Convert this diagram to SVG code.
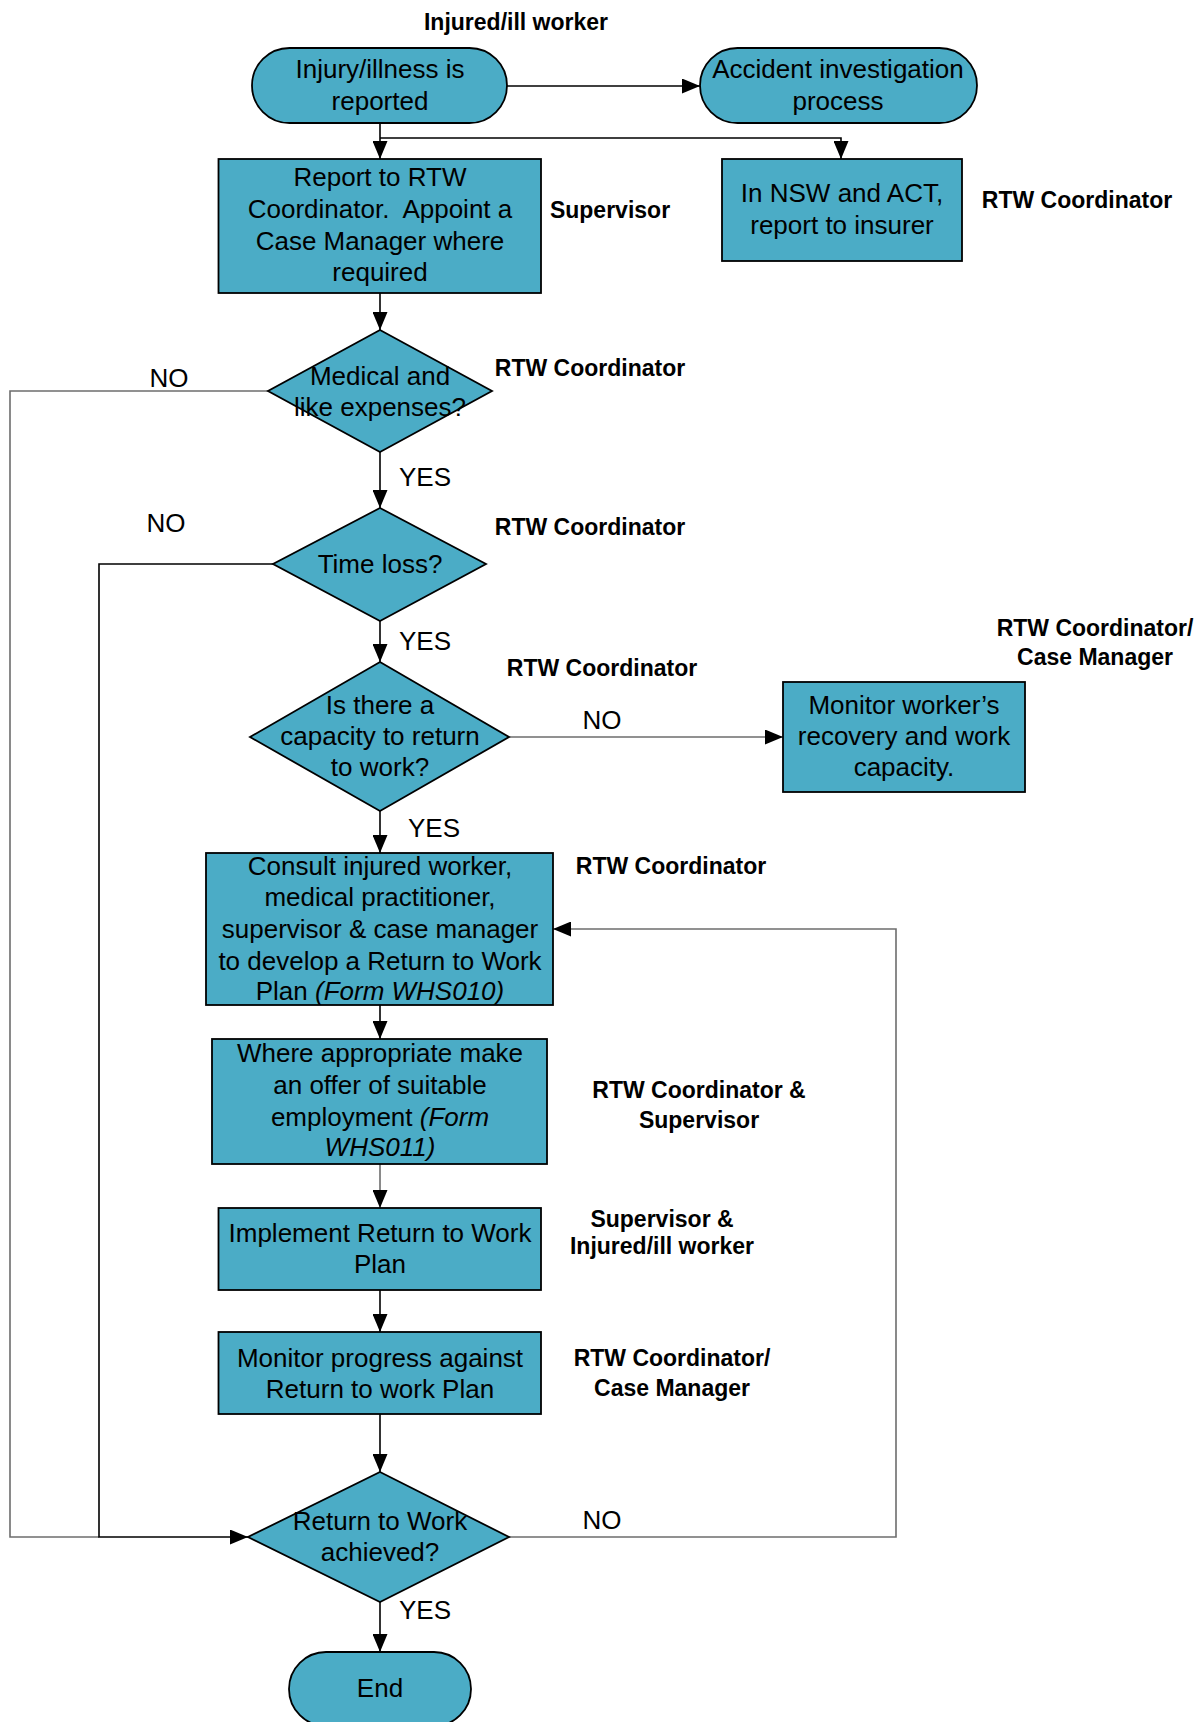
<svg xmlns="http://www.w3.org/2000/svg" width="1200" height="1722" viewBox="0 0 1200 1722">
<defs>
<marker id="ah" viewBox="0 0 18 15" refX="18" refY="7.5" markerWidth="18" markerHeight="15" markerUnits="userSpaceOnUse" orient="auto">
<path d="M0,0 L18,7.5 L0,15 z" fill="#000"/>
</marker>
</defs>
<style>
.shape{fill:#4BACC6;stroke:#000;stroke-width:1.8}
.t{font-family:"Liberation Sans",Arial,sans-serif;font-size:26px;fill:#000;text-anchor:middle}
.lb{font-family:"Liberation Sans",Arial,sans-serif;font-size:23px;font-weight:bold;fill:#000;text-anchor:middle}
.yn{font-family:"Liberation Sans",Arial,sans-serif;font-size:26px;fill:#000}
.c{fill:none;stroke:#000;stroke-width:1.6}
.g{fill:none;stroke:#6d6d6d;stroke-width:1.6}
.i{font-style:italic}
</style>
<rect width="1200" height="1722" fill="#fff"/>

<g id="connectors">
<path class="c" d="M507,86 H700" marker-end="url(#ah)"/>
<path class="c" d="M380,123 V159" marker-end="url(#ah)"/>
<path class="c" d="M380,138 H841 V159" marker-end="url(#ah)"/>
<path class="c" d="M380,293 V330" marker-end="url(#ah)"/>
<path class="g" d="M268,391 H10 V1537 H99"/>
<path class="c" d="M380,452 V508" marker-end="url(#ah)"/>
<path class="c" d="M273,564 H99 V1537 H248" marker-end="url(#ah)"/>
<path class="c" d="M380,621 V662" marker-end="url(#ah)"/>
<path class="g" d="M509,737 H783" marker-end="url(#ah)"/>
<path class="c" d="M380,811 V853" marker-end="url(#ah)"/>
<path class="c" d="M380,1005 V1039" marker-end="url(#ah)"/>
<path class="g" d="M380,1164 V1208" marker-end="url(#ah)"/>
<path class="c" d="M380,1290 V1332" marker-end="url(#ah)"/>
<path class="c" d="M380,1414 V1472" marker-end="url(#ah)"/>
<path class="g" d="M509,1537 H896 V929 H553" marker-end="url(#ah)"/>
<path class="c" d="M380,1602 V1652" marker-end="url(#ah)"/>
<text class="yn" x="169" y="387" text-anchor="middle">NO</text>
<text class="yn" x="399" y="486">YES</text>
<text class="yn" x="166" y="532" text-anchor="middle">NO</text>
<text class="yn" x="399" y="650">YES</text>
<text class="yn" x="602" y="729" text-anchor="middle">NO</text>
<text class="yn" x="408" y="837">YES</text>
<text class="yn" x="602" y="1529" text-anchor="middle">NO</text>
<text class="yn" x="399" y="1619">YES</text>
</g>

<g id="start">
<rect class="shape" x="252" y="48" width="255" height="75" rx="37.5"/>
<text class="t" x="380" y="78">Injury/illness is</text>
<text class="t" x="380" y="110">reported</text>
</g>
<g id="accident">
<rect class="shape" x="700" y="48" width="277" height="75" rx="37.5"/>
<text class="t" x="838" y="78">Accident investigation</text>
<text class="t" x="838" y="110">process</text>
</g>
<g id="report">
<rect class="shape" x="218.5" y="159" width="322.5" height="134"/>
<text class="t" x="380" y="186">Report to RTW</text>
<text class="t" x="380" y="218">Coordinator.&#160; Appoint a</text>
<text class="t" x="380" y="250">Case Manager where</text>
<text class="t" x="380" y="281">required</text>
</g>
<g id="nsw">
<rect class="shape" x="722" y="159" width="240" height="102"/>
<text class="t" x="842" y="202">In NSW and ACT,</text>
<text class="t" x="842" y="234">report to insurer</text>
</g>
<g id="medical">
<polygon class="shape" points="380,330 492,391 380,452 268,391"/>
<text class="t" x="380" y="385">Medical and</text>
<text class="t" x="380" y="416">like expenses?</text>
</g>
<g id="timeloss">
<polygon class="shape" points="380,508 486,564 380,621 273,564"/>
<text class="t" x="380" y="573">Time loss?</text>
</g>
<g id="capacity">
<polygon class="shape" points="380,662 509,737 380,811 250,737"/>
<text class="t" x="380" y="714">Is there a</text>
<text class="t" x="380" y="745">capacity to return</text>
<text class="t" x="380" y="776">to work?</text>
</g>
<g id="monitorworker">
<rect class="shape" x="783" y="682" width="242" height="110"/>
<text class="t" x="904" y="714">Monitor worker’s</text>
<text class="t" x="904" y="745">recovery and work</text>
<text class="t" x="904" y="776">capacity.</text>
</g>
<g id="consult">
<rect class="shape" x="206" y="853" width="347" height="152"/>
<text class="t" x="380" y="875">Consult injured worker,</text>
<text class="t" x="380" y="906">medical practitioner,</text>
<text class="t" x="380" y="938">supervisor &amp; case manager</text>
<text class="t" x="380" y="970">to develop a Return to Work</text>
<text class="t" x="380" y="1000">Plan <tspan class="i">(Form WHS010)</tspan></text>
</g>
<g id="offer">
<rect class="shape" x="212" y="1039" width="335" height="125"/>
<text class="t" x="380" y="1062">Where appropriate make</text>
<text class="t" x="380" y="1094">an offer of suitable</text>
<text class="t" x="380" y="1126">employment <tspan class="i">(Form</tspan></text>
<text class="t i" x="380" y="1156">WHS011)</text>
</g>
<g id="implement">
<rect class="shape" x="218.5" y="1208" width="322.5" height="82"/>
<text class="t" x="380" y="1242">Implement Return to Work</text>
<text class="t" x="380" y="1273">Plan</text>
</g>
<g id="monitorprogress">
<rect class="shape" x="218.5" y="1332" width="322.5" height="82"/>
<text class="t" x="380" y="1367">Monitor progress against</text>
<text class="t" x="380" y="1398">Return to work Plan</text>
</g>
<g id="achieved">
<polygon class="shape" points="380,1472 509,1537 380,1602 248,1537"/>
<text class="t" x="380" y="1530">Return to Work</text>
<text class="t" x="380" y="1561">achieved?</text>
</g>
<g id="end">
<rect class="shape" x="289" y="1652" width="182" height="74" rx="37"/>
<text class="t" x="380" y="1697">End</text>
</g>

<g id="roles">
<text class="lb" x="516" y="30">Injured/ill worker</text>
<text class="lb" x="610" y="218">Supervisor</text>
<text class="lb" x="1077" y="208">RTW Coordinator</text>
<text class="lb" x="590" y="376">RTW Coordinator</text>
<text class="lb" x="590" y="535">RTW Coordinator</text>
<text class="lb" x="602" y="676">RTW Coordinator</text>
<text class="lb" x="1095" y="636">RTW Coordinator/</text>
<text class="lb" x="1095" y="665">Case Manager</text>
<text class="lb" x="671" y="874">RTW Coordinator</text>
<text class="lb" x="699" y="1098">RTW Coordinator &amp;</text>
<text class="lb" x="699" y="1128">Supervisor</text>
<text class="lb" x="662" y="1227">Supervisor &amp;</text>
<text class="lb" x="662" y="1254">Injured/ill worker</text>
<text class="lb" x="672" y="1366">RTW Coordinator/</text>
<text class="lb" x="672" y="1396">Case Manager</text>
</g>
</svg>
